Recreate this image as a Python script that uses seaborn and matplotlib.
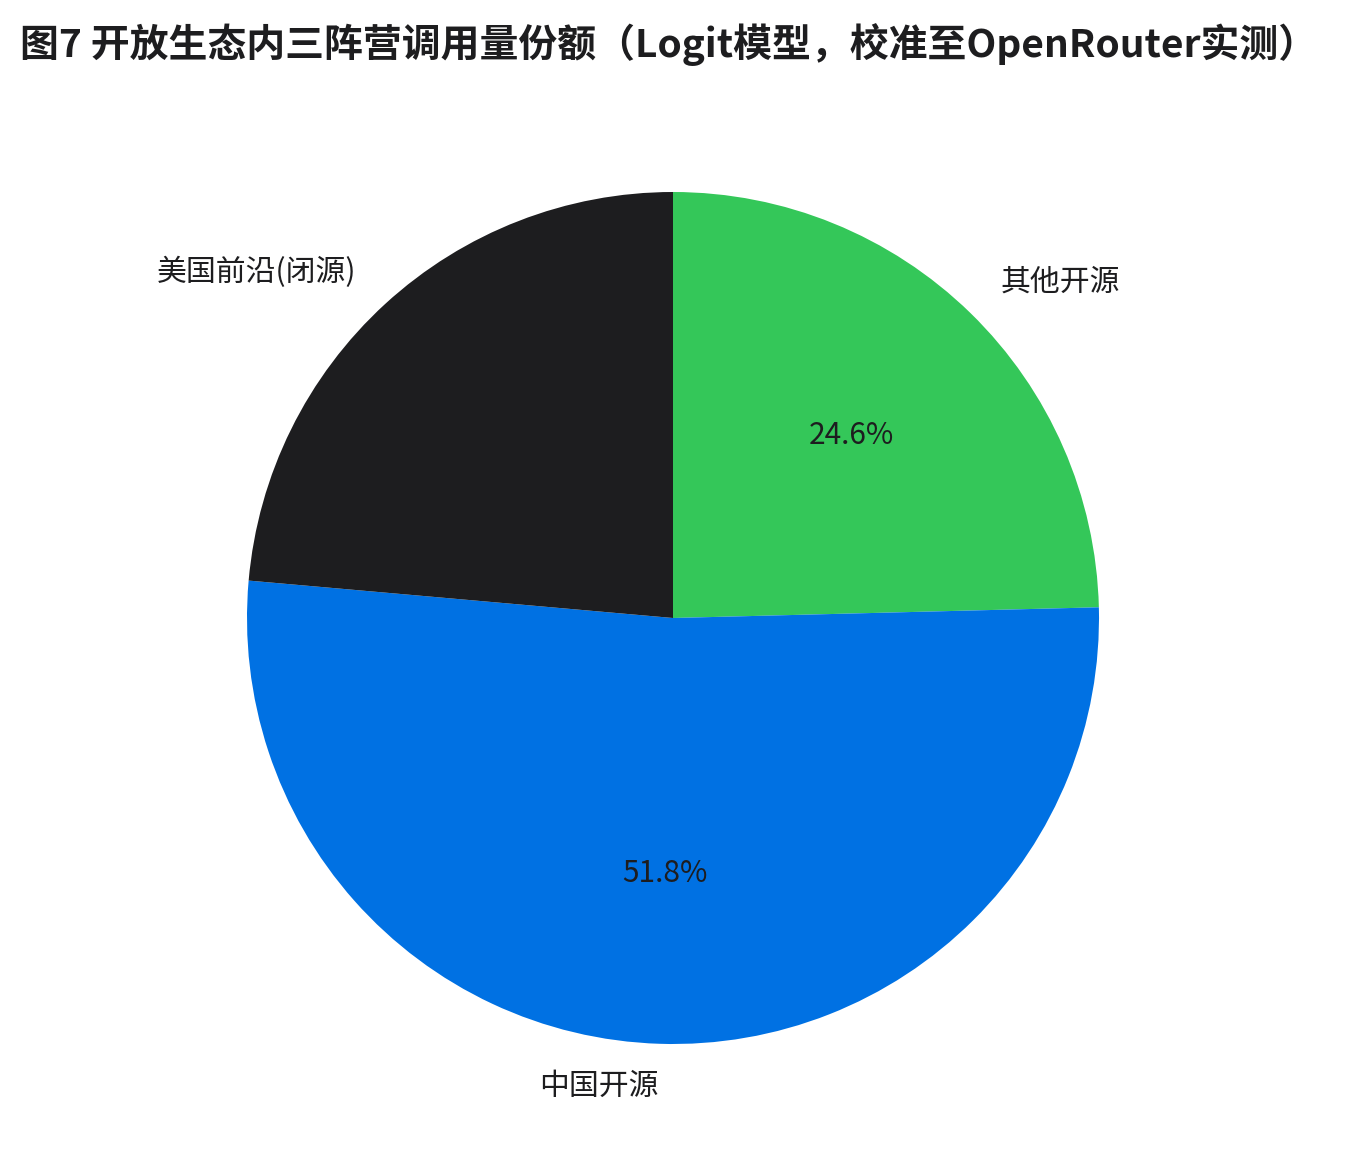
import matplotlib
matplotlib.use("Agg")
import matplotlib.pyplot as plt
import seaborn as sns

# shares of calls inside the open ecosystem (logit model)
labels = ["其他开源", "中国开源", "美国前沿(闭源)"]
shares = [24.6, 51.8, 23.6]
colors = ["#34C759", "#0071E3", "#1D1D1F"]

sns.set_theme(style="white")
plt.rcParams['font.family'] = ['Noto Sans CJK SC', 'DejaVu Sans']
plt.rcParams['text.color'] = '#1D1D1F'

fig = plt.figure(figsize=(13.46, 11.71), dpi=100)
W, H = 1346, 1171
cx, cy, r = 673, 618, 426
ax = fig.add_axes([(cx - r) / W, (H - cy - r) / H, 2 * r / W, 2 * r / H])

wedges, texts, autotexts = ax.pie(
    shares, labels=labels, colors=colors, startangle=90, counterclock=False,
    autopct='%1.1f%%', textprops={'fontsize': 21.5, 'color': '#1D1D1F'},
    wedgeprops={'linewidth': 0}, radius=1)
ax.set_xlim(-1, 1)
ax.set_ylim(-1, 1)
ax.set_aspect('equal')

fig.text(20 / W, 1 - 45 / H, "图7 开放生态内三阵营调用量份额（Logit模型，校准至OpenRouter实测）",
         fontsize=28, fontweight='bold', va='center', ha='left', color='#1D1D1F')

fig.savefig("out.png", dpi=100, facecolor='white')
